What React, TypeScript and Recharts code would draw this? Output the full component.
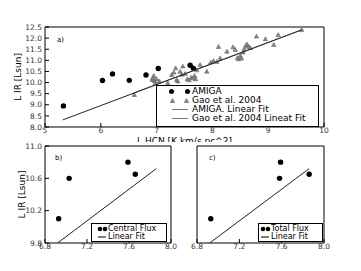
import React from 'react';
import { ScatterChart, Scatter, XAxis, YAxis, Legend } from 'recharts';

const FONT = '"DejaVu Sans", sans-serif';

// panel a) - log L_HCN vs log L_IR
const amigaLogHcn = [5.33, 6.03, 6.21, 6.51, 6.81, 7.03, 7.6, 7.66];
const amigaLogIr = [8.95, 10.09, 10.39, 10.1, 10.34, 10.63, 10.78, 10.64];

const gaoLogHcn = [
  6.6, 6.92, 6.93, 6.95, 6.96, 6.98, 7.0, 7.05, 7.2, 7.27, 7.31, 7.34, 7.36, 7.38,
  7.42, 7.45, 7.47, 7.51, 7.55, 7.58, 7.62, 7.65, 7.68, 7.7, 7.72, 7.63, 7.78, 7.9,
  7.97, 8.02, 8.08, 8.11, 8.14, 8.26, 8.37, 8.41, 8.45, 8.47, 8.5, 8.52, 8.55, 8.57,
  8.6, 8.62, 8.65, 8.68, 8.79, 8.95, 9.1, 9.18, 9.6,
];
const gaoLogIr = [
  9.44, 10.12, 10.19, 10.3, 10.07, 9.97, 10.15, 10.05, 9.97, 10.34, 10.45, 10.64, 10.12, 10.05,
  10.49, 10.35, 10.72, 10.39, 10.15, 10.1, 10.22, 10.18, 10.3, 10.15, 10.55, 10.75, 10.79, 10.49,
  10.9, 10.97, 10.93, 11.6, 11.09, 11.39, 11.59, 11.47, 11.1, 11.05, 11.2, 11.08, 11.35, 11.5,
  11.65, 11.72, 11.6, 11.55, 12.07, 11.95, 11.69, 12.14, 12.36,
];

const amigaFitHcn = [5.32, 9.6];
const amigaFitIr = [8.32, 12.37];
const gaoFitHcn = [6.58, 9.6];
const gaoFitIr = [9.52, 12.37];

const xTicksA = [5, 6, 7, 8, 9, 10];
const yTicksA = [8, 8.5, 9, 9.5, 10, 10.5, 11, 11.5, 12, 12.5];

// panels b) and c)
const centralHcn = [6.93, 7.03, 7.59, 7.66];
const centralIr = [10.1, 10.6, 10.8, 10.65];
const totalHcn = [6.93, 7.59, 7.58, 7.86];
const totalIr = [10.1, 10.8, 10.6, 10.65];
const fitBcHcn = [6.92, 7.86];
const fitBcIr = [9.8, 10.72];

const xTicksBc = [6.8, 7.2, 7.6, 8.0];
const yTicksBc = [9.8, 10.2, 10.6, 11.0];

const toPoints = (xs: number[], ys: number[]) => xs.map((x, i) => ({ x, y: ys[i] }));

const amiga = toPoints(amigaLogHcn, amigaLogIr);
const gao = toPoints(gaoLogHcn, gaoLogIr);
const amigaFit = toPoints(amigaFitHcn, amigaFitIr);
const gaoFit = toPoints(gaoFitHcn, gaoFitIr);
const central = toPoints(centralHcn, centralIr);
const total = toPoints(totalHcn, totalIr);
const fitBc = toPoints(fitBcHcn, fitBcIr);

const tickStyle = { fontSize: 7.5, fill: '#333', fontFamily: FONT };

const Dot = (props: any) => <circle cx={props.cx} cy={props.cy} r={2.7} fill="#000" />;
const Tri = (props: any) => {
  const { cx, cy } = props;
  return (
    <path
      d={`M${cx},${cy - 2.4}L${cx + 2.2},${cy + 1.5}L${cx - 2.2},${cy + 1.5}Z`}
      fill="#8a8a8a"
      stroke="#555"
      strokeWidth={0.5}
    />
  );
};
const NoMark = () => <g />;

const rowStyle: React.CSSProperties = { display: 'flex', alignItems: 'center', whiteSpace: 'nowrap' };

const LegendA = () => (
  <div
    style={{
      width: 163, height: 42, boxSizing: 'border-box', border: '1px solid #000',
      background: '#fff', fontFamily: FONT, fontSize: 9, lineHeight: '9px', color: '#000', paddingTop: 0.5,
    }}
  >
    {[
      ['dot', 'AMIGA'],
      ['tri', 'Gao et al. 2004'],
      ['line', 'AMIGA. Linear Fit'],
      ['line', 'Gao et al. 2004 Lineat Fit'],
    ].map(([kind, text]) => (
      <div key={text} style={{ ...rowStyle, height: 9 }}>
        <svg width={35} height={9} style={{ flex: 'none' }}>
          {kind === 'dot' && (
            <>
              <circle cx={14.5} cy={4.5} r={2.5} fill="#000" />
              <circle cx={30.5} cy={4.5} r={2.5} fill="#000" />
            </>
          )}
          {kind === 'tri' && (
            <>
              <Tri cx={15.5} cy={5} />
              <Tri cx={29.5} cy={5} />
            </>
          )}
          {kind === 'line' && <line x1={15} x2={31} y1={4.5} y2={4.5} stroke="#777" strokeWidth={1} />}
        </svg>
        <span>{text}</span>
      </div>
    ))}
  </div>
);

const SmallLegend = ({ width, label, dotGap }: { width: number; label: string; dotGap: number }) => (
  <div
    style={{
      width, height: 19, boxSizing: 'border-box', border: '1px solid #000',
      background: '#fff', fontFamily: FONT, fontSize: 8, lineHeight: '8px', color: '#000', paddingTop: 1,
    }}
  >
    <div style={{ ...rowStyle, height: 8 }}>
      <svg width={dotGap + 8} height={8} style={{ flex: 'none' }}>
        <circle cx={dotGap} cy={4} r={2.3} fill="#000" />
        <circle cx={dotGap + 5} cy={4} r={2.3} fill="#000" />
      </svg>
      <span>{label}</span>
    </div>
    <div style={{ ...rowStyle, height: 8 }}>
      <svg width={dotGap + 8} height={8} style={{ flex: 'none' }}>
        <line x1={dotGap - 2} x2={dotGap + 6} y1={4} y2={4} stroke="#000" strokeWidth={1} />
      </svg>
      <span>Linear Fit</span>
    </div>
  </div>
);

const axisCommon = {
  stroke: '#000',
  tickSize: -4,
  interval: 0 as const,
  tick: tickStyle,
  allowDataOverflow: true,
};

const PanelA = () => (
  <ScatterChart width={361} height={160} margin={{ top: 26, right: 36, bottom: 13, left: 15 }}>
    <XAxis
      {...axisCommon}
      type="number"
      dataKey="x"
      domain={[5, 10]}
      ticks={xTicksA}
      tickMargin={5}
      height={20}
      label={{ value: 'L HCN [K km/s pc^2]', position: 'insideBottom', offset: 3, fontSize: 9, fill: '#000', fontFamily: FONT }}
    />
    <XAxis {...axisCommon} xAxisId="top" orientation="top" type="number" domain={[5, 10]} ticks={xTicksA} tick={false} height={1} />
    <YAxis
      {...axisCommon}
      type="number"
      dataKey="y"
      domain={[8, 12.5]}
      ticks={yTicksA}
      tickMargin={7}
      width={30}
      tickFormatter={(v: number) => v.toFixed(1)}
      label={{ value: 'L IR [Lsun]', angle: -90, position: 'center', dx: -12, fontSize: 9, fill: '#000', fontFamily: FONT }}
    />
    <YAxis {...axisCommon} yAxisId="right" orientation="right" type="number" domain={[8, 12.5]} ticks={yTicksA} tick={false} width={1} />
    <Scatter data={gao} shape={Tri} isAnimationActive={false} />
    <Scatter data={amiga} shape={Dot} isAnimationActive={false} />
    <Scatter data={amigaFit} shape={NoMark} line={{ stroke: '#222', strokeWidth: 1 }} isAnimationActive={false} />
    <Scatter data={gaoFit} shape={NoMark} line={{ stroke: '#333', strokeWidth: 0.8 }} isAnimationActive={false} />
    <text x={57} y={42} fontSize={7} fontFamily={FONT} fill="#000">a)</text>
    <Legend
      layout="vertical"
      align="center"
      verticalAlign="middle"
      content={() => <LegendA />}
      wrapperStyle={{ left: 156, top: 85, width: 163, height: 42 }}
    />
  </ScatterChart>
);

const PanelBc = ({
  points, tag, tagX, legendLabel, legendLeft, legendWidth, dotGap, showY,
}: {
  points: { x: number; y: number }[]; tag: string; tagX: number; legendLabel: string;
  legendLeft: number; legendWidth: number; dotGap: number; showY: boolean;
}) => (
  <ScatterChart
    width={showY ? 185 : 176}
    height={129}
    margin={{ top: 3, right: showY ? 13 : 36, bottom: 8, left: showY ? 15 : 0 }}
  >
    <XAxis
      {...axisCommon}
      type="number"
      dataKey="x"
      domain={[6.8, 8.0]}
      ticks={xTicksBc}
      tickMargin={5}
      height={20}
      tickFormatter={(v: number) => v.toFixed(1)}
    />
    <XAxis {...axisCommon} xAxisId="top" orientation="top" type="number" domain={[6.8, 8.0]} ticks={xTicksBc} tick={false} height={1} />
    <YAxis
      {...axisCommon}
      type="number"
      dataKey="y"
      domain={[9.8, 11.0]}
      ticks={yTicksBc}
      tickMargin={7}
      width={showY ? 30 : 12}
      tick={showY ? tickStyle : false}
      tickFormatter={(v: number) => v.toFixed(1)}
      label={
        showY
          ? { value: 'L IR [Lsun]', angle: -90, position: 'center', dx: -8, fontSize: 9, fill: '#000', fontFamily: FONT }
          : undefined
      }
    />
    <YAxis {...axisCommon} yAxisId="right" orientation="right" type="number" domain={[9.8, 11.0]} ticks={yTicksBc} tick={false} width={1} />
    <Scatter data={points} shape={Dot} isAnimationActive={false} />
    <Scatter data={fitBc} shape={NoMark} line={{ stroke: '#222', strokeWidth: 1 }} isAnimationActive={false} />
    <text x={tagX} y={18} fontSize={7} fontFamily={FONT} fill="#000">{tag}</text>
    <Legend
      layout="vertical"
      align="center"
      verticalAlign="middle"
      content={() => <SmallLegend width={legendWidth} label={legendLabel} dotGap={dotGap} />}
      wrapperStyle={{ left: legendLeft, top: 81, width: legendWidth, height: 19 }}
    />
  </ScatterChart>
);

export default function App() {
  return (
    <div style={{ position: 'absolute', left: 0, top: 0, width: 361, height: 271, background: '#fff', overflow: 'hidden' }}>
      <div style={{ position: 'absolute', left: 0, top: 0 }}>
        <PanelA />
      </div>
      <div style={{ position: 'absolute', left: 0, top: 142, width: 185, height: 129, background: '#fff' }}>
        <PanelBc points={central} tag="b)" tagX={55} legendLabel="Central Flux" legendLeft={91} legendWidth={76} dotGap={8} showY />
      </div>
      <div style={{ position: 'absolute', left: 185, top: 142, width: 176, height: 129, background: '#fff' }}>
        <PanelBc points={total} tag="c)" tagX={24} legendLabel="Total Flux" legendLeft={73} legendWidth={65} dotGap={4} showY={false} />
      </div>
    </div>
  );
}
